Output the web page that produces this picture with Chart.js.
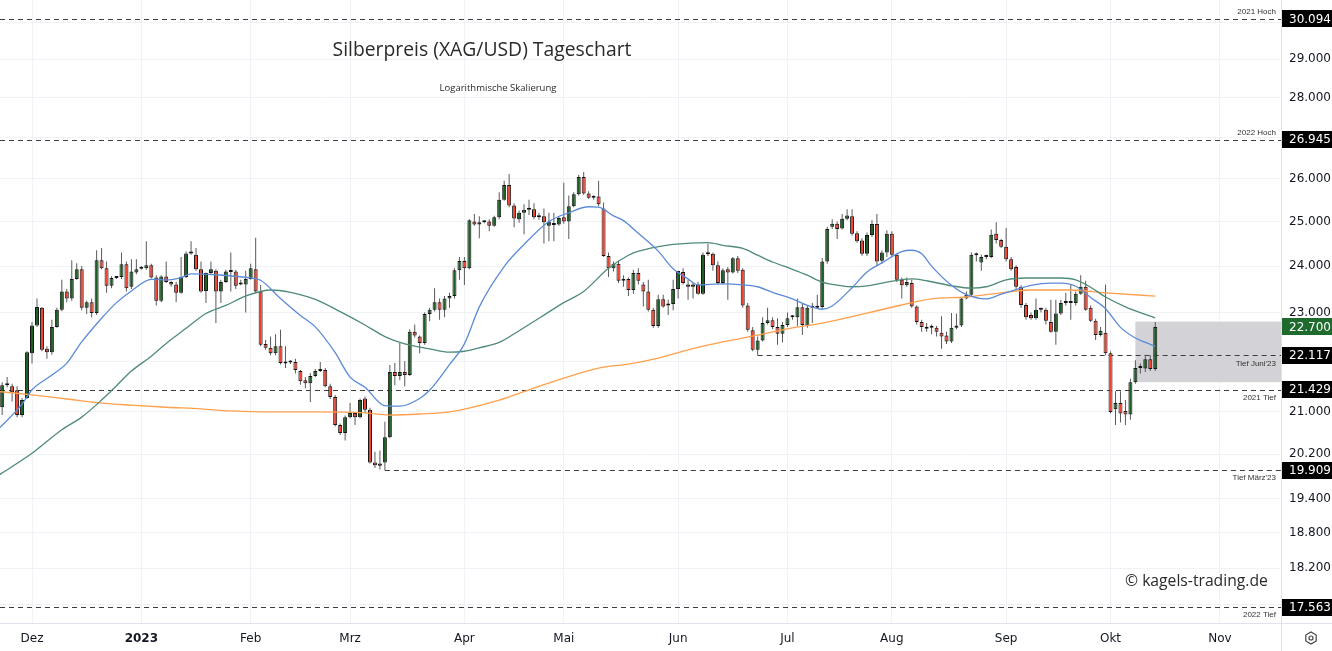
<!DOCTYPE html>
<html>
<head>
<meta charset="utf-8">
<script src="https://cdn.jsdelivr.net/npm/chart.js@4.4.0/dist/chart.umd.min.js"></script>
<style>
  html, body { margin: 0; padding: 0; background: #fff; }
  #wrap { width: 1332px; height: 651px; }
</style>
</head>
<body>
<div id="wrap"><canvas id="chart" width="1332" height="651"></canvas></div>
<script>
// Trading-day index: bar 0 = 1 Dez 2022, first candle is 6 bars earlier
const firstBar = -6;

// OHLC, one value per trading day
const opens = [
  21.09, 21.52, 21.50, 21.42, 20.94, 21.27,
  22.16, 22.73, 23.10, 22.25, 22.18, 22.70, 23.06, 23.45, 23.30, 23.72,
  23.93, 23.10, 23.22, 22.99, 24.13, 23.95, 23.57, 23.74, 23.76, 24.04,
  23.55, 23.86, 23.94, 23.95, 24.02, 23.75, 23.25, 23.77, 23.65, 23.60,
  23.42, 23.76, 24.28, 24.25, 23.93, 23.46, 23.85, 23.90, 23.45, 23.65,
  23.87, 23.88, 23.60, 23.60, 23.72, 23.93, 23.45, 22.35, 22.27, 22.16,
  22.30, 21.96, 21.97, 21.98, 21.80, 21.62, 21.56, 21.70, 21.80, 21.82,
  21.50, 21.29, 20.75, 20.60, 20.90, 20.98, 20.90, 21.26, 21.04, 20.05,
  20.03, 20.05, 20.52, 21.78, 21.70, 21.78, 21.72, 22.60, 22.50, 22.37,
  22.97, 23.06, 23.22, 23.06, 23.30, 23.35, 23.91, 24.11, 23.95, 25.00,
  24.93, 24.98, 25.00, 24.90, 25.10, 25.50, 25.85, 25.37, 25.05, 25.20,
  25.27, 25.28, 25.13, 25.12, 24.90, 24.93, 24.93, 25.10, 25.00, 25.35,
  25.63, 26.04, 25.65, 25.55, 25.58, 25.30, 24.22, 23.95, 24.05, 23.68,
  23.72, 23.48, 23.85, 23.60, 23.45, 23.06, 22.72, 23.28, 23.15, 23.18,
  23.50, 23.87, 23.60, 23.55, 23.60, 23.40, 24.26, 24.27, 24.02, 23.63,
  23.93, 23.86, 24.17, 23.92, 23.15, 22.63, 22.23, 22.42, 22.78, 22.84,
  22.70, 22.56, 22.74, 22.90, 22.90, 23.11, 22.72, 23.10, 23.10, 23.12,
  24.10, 24.88, 24.95, 24.84, 25.06, 25.12, 24.73, 24.57, 24.27, 24.69,
  24.94, 24.12, 24.30, 24.72, 24.25, 23.70, 23.58, 23.63, 23.13, 22.80,
  22.66, 22.68, 22.68, 22.58, 22.52, 22.40, 22.68, 22.73, 23.30, 23.38,
  24.24, 24.08, 24.20, 24.20, 24.72, 24.58, 24.43, 24.15, 23.98, 23.55,
  23.16, 22.95, 22.88, 23.06, 23.06, 22.80, 22.60, 22.98, 23.20, 23.22,
  23.20, 23.40, 23.55, 23.10, 22.83, 22.53, 22.58, 22.16, 21.05, 21.17,
  21.02, 20.95, 21.58, 21.86, 21.85, 22.04, 21.84
];
const highs = [
  21.58, 21.68, 21.55, 21.50, 21.27, 22.20,
  22.80, 23.30, 23.12, 22.30, 22.85, 23.10, 23.70, 23.50, 24.13, 24.06,
  24.00, 23.25, 23.30, 24.35, 24.40, 24.10, 23.78, 23.78, 24.30, 24.10,
  24.15, 24.15, 24.00, 24.55, 24.05, 23.80, 23.80, 24.10, 23.67, 23.65,
  24.20, 24.32, 24.55, 24.40, 24.10, 23.86, 24.10, 23.93, 23.70, 23.92,
  24.30, 23.92, 23.70, 23.90, 24.05, 24.63, 23.59, 22.43, 22.50, 22.55,
  22.64, 22.30, 22.02, 22.05, 21.82, 21.68, 21.76, 21.84, 21.98, 21.86,
  21.55, 21.33, 20.78, 20.93, 21.17, 21.00, 21.26, 21.30, 21.08, 20.25,
  20.27, 20.81, 21.92, 21.96, 22.37, 22.00, 22.65, 22.75, 22.52, 23.00,
  23.10, 23.52, 23.30, 23.35, 23.42, 23.95, 24.20, 24.20, 25.05, 25.17,
  25.12, 25.02, 25.05, 25.13, 25.68, 25.95, 26.11, 25.42, 25.25, 25.40,
  25.50, 25.42, 25.20, 25.30, 25.20, 25.20, 25.12, 25.90, 25.60, 25.68,
  26.09, 26.16, 25.70, 25.60, 25.95, 25.44, 24.30, 24.10, 24.12, 23.80,
  23.75, 23.92, 23.95, 23.65, 23.70, 23.10, 23.38, 23.38, 23.27, 23.70,
  23.90, 23.95, 23.70, 23.63, 23.65, 24.30, 24.50, 24.30, 24.10, 23.95,
  23.98, 24.20, 24.22, 23.95, 23.20, 22.70, 22.50, 22.90, 23.10, 22.90,
  22.88, 22.80, 23.00, 22.95, 23.30, 23.20, 23.15, 23.20, 23.38, 24.18,
  24.88, 25.05, 25.00, 25.17, 25.28, 25.28, 24.78, 24.62, 24.75, 25.03,
  25.17, 24.35, 24.80, 24.78, 24.28, 23.75, 23.75, 23.70, 23.15, 22.85,
  22.78, 22.75, 22.72, 22.92, 22.60, 22.99, 22.98, 23.32, 23.45, 24.30,
  24.30, 24.25, 24.25, 24.82, 24.98, 24.60, 24.85, 24.20, 24.02, 23.58,
  23.20, 23.00, 23.30, 23.10, 23.10, 23.27, 23.27, 23.27, 23.42, 23.60,
  23.45, 23.80, 23.68, 23.15, 22.87, 22.70, 23.60, 22.20, 21.40, 21.40,
  21.23, 21.65, 22.02, 21.95, 22.13, 22.12, 22.80
];
const lows = [
  20.94, 21.48, 21.20, 20.90, 20.90, 21.25,
  21.95, 22.70, 22.20, 22.05, 22.13, 22.68, 23.03, 23.22, 23.25, 23.70,
  23.05, 22.97, 22.90, 22.95, 23.93, 23.42, 23.52, 23.72, 23.72, 23.45,
  23.50, 23.82, 23.92, 23.92, 23.73, 23.15, 23.22, 23.63, 23.55, 23.22,
  23.40, 23.74, 24.25, 23.90, 23.42, 23.20, 23.83, 22.78, 23.20, 23.63,
  23.45, 23.50, 23.58, 23.00, 23.70, 23.43, 22.30, 22.23, 22.12, 22.12,
  21.93, 21.86, 21.94, 21.75, 21.53, 21.46, 21.19, 21.68, 21.78, 21.48,
  21.25, 20.72, 20.56, 20.46, 20.88, 20.75, 20.88, 20.98, 20.03, 19.95,
  19.92, 19.909, 20.50, 21.52, 21.62, 21.50, 21.70, 22.48, 22.16, 22.33,
  22.82, 23.02, 22.85, 22.90, 23.10, 23.30, 23.70, 23.59, 23.93, 24.90,
  24.62, 24.96, 24.78, 24.88, 25.05, 25.48, 25.33, 24.87, 24.97, 24.71,
  25.15, 25.05, 25.04, 24.50, 24.55, 24.55, 24.90, 24.95, 24.60, 25.33,
  25.60, 25.62, 25.52, 25.50, 25.35, 24.20, 23.76, 23.88, 23.63, 23.55,
  23.35, 23.40, 23.60, 23.13, 23.02, 22.68, 22.68, 23.10, 22.95, 23.05,
  23.30, 23.60, 23.27, 23.30, 23.38, 23.38, 24.22, 23.90, 23.60, 23.60,
  23.27, 23.84, 23.85, 23.10, 22.60, 22.20, 22.117, 22.40, 22.75, 22.65,
  22.33, 22.38, 22.70, 22.85, 22.72, 22.53, 22.68, 22.78, 23.08, 23.08,
  24.05, 24.83, 24.60, 24.82, 25.03, 24.68, 24.52, 24.23, 24.22, 24.65,
  24.02, 24.05, 24.20, 24.20, 23.65, 23.30, 23.55, 23.10, 22.75, 22.60,
  22.60, 22.55, 22.50, 22.25, 22.35, 22.37, 22.65, 22.70, 23.28, 23.35,
  24.10, 23.90, 24.15, 24.18, 24.50, 24.40, 24.10, 23.90, 23.50, 23.10,
  22.85, 22.85, 22.85, 23.00, 22.75, 22.58, 22.33, 22.95, 23.15, 22.85,
  23.15, 23.38, 23.04, 22.80, 22.43, 22.50, 22.12, 20.97, 20.75, 20.80,
  20.75, 20.85, 21.55, 21.75, 21.78, 21.80, 21.80
];
const closes = [
  21.52, 21.56, 21.38, 20.94, 21.23, 22.18,
  22.73, 23.12, 22.23, 22.18, 22.70, 23.06, 23.45, 23.30, 23.72, 23.93,
  23.10, 23.22, 22.99, 24.13, 23.95, 23.57, 23.74, 23.76, 24.04, 23.52,
  23.88, 23.93, 23.96, 24.02, 23.75, 23.25, 23.77, 23.65, 23.60, 23.42,
  23.76, 24.28, 24.30, 23.93, 23.45, 23.85, 23.93, 23.45, 23.65, 23.88,
  23.89, 23.57, 23.63, 23.72, 23.95, 23.45, 22.33, 22.27, 22.16, 22.30,
  21.96, 21.95, 21.98, 21.82, 21.60, 21.56, 21.70, 21.80, 21.82, 21.50,
  21.29, 20.75, 20.60, 20.90, 20.98, 20.90, 21.23, 21.04, 20.05, 20.00,
  19.99, 20.52, 21.78, 21.70, 21.78, 21.72, 22.60, 22.52, 22.37, 22.97,
  23.06, 23.22, 23.06, 23.30, 23.35, 23.91, 24.11, 23.95, 25.03, 24.93,
  24.98, 24.99, 24.90, 25.10, 25.50, 25.85, 25.37, 25.07, 25.20, 25.27,
  25.30, 25.10, 25.10, 24.98, 25.00, 24.92, 25.08, 25.00, 25.35, 25.63,
  26.04, 25.65, 25.55, 25.56, 25.40, 24.22, 23.95, 24.05, 23.68, 23.72,
  23.48, 23.85, 23.68, 23.45, 23.06, 22.72, 23.28, 23.13, 23.16, 23.50,
  23.89, 23.63, 23.55, 23.60, 23.40, 24.25, 24.27, 24.02, 23.63, 23.91,
  23.86, 24.17, 23.90, 23.15, 22.64, 22.23, 22.42, 22.78, 22.84, 22.70,
  22.56, 22.74, 22.88, 22.91, 23.11, 22.74, 23.10, 23.12, 23.12, 24.10,
  24.83, 24.95, 24.83, 25.06, 25.14, 24.72, 24.55, 24.27, 24.69, 24.94,
  24.10, 24.30, 24.72, 24.25, 23.70, 23.58, 23.65, 23.13, 22.80, 22.70,
  22.70, 22.69, 22.60, 22.50, 22.40, 22.68, 22.73, 23.30, 23.38, 24.25,
  24.25, 24.20, 24.21, 24.70, 24.58, 24.43, 24.15, 23.93, 23.55, 23.16,
  22.90, 22.88, 23.06, 23.07, 22.83, 22.60, 22.98, 23.20, 23.22, 23.20,
  23.40, 23.55, 23.06, 22.83, 22.53, 22.62, 22.16, 21.00, 21.17, 20.97,
  20.95, 21.58, 21.86, 21.87, 22.04, 21.84, 22.70
];

// moving averages (bar index -> price)
const sma20Bars = [-7, -2, 0, 4, 7, 10, 14, 17, 20, 24, 27, 30, 32, 37, 44, 46, 50, 54, 57, 61, 64, 67, 71, 74, 78, 80, 84, 87, 90, 95, 99, 104, 108, 112, 114, 117, 119, 122, 126, 129, 132, 134, 139, 143, 146, 149, 153, 156, 159, 161, 165, 168, 171, 175, 177, 179, 181, 185, 188, 192, 195, 198, 201, 205, 207, 210, 213, 216, 219, 222, 224, 226];
const sma20Values = [20.65, 21.15, 21.43, 21.72, 21.96, 22.39, 22.88, 23.21, 23.46, 23.71, 23.70, 23.75, 23.83, 23.81, 23.74, 23.69, 23.30, 22.94, 22.70, 22.17, 21.68, 21.48, 21.12, 21.11, 21.26, 21.42, 21.93, 22.35, 23.12, 23.99, 24.48, 25.00, 25.20, 25.34, 25.33, 25.13, 25.02, 24.73, 24.33, 23.94, 23.72, 23.59, 23.61, 23.59, 23.55, 23.43, 23.29, 23.15, 23.07, 23.14, 23.53, 23.87, 24.07, 24.32, 24.35, 24.27, 24.00, 23.58, 23.38, 23.29, 23.39, 23.49, 23.58, 23.63, 23.63, 23.56, 23.32, 23.08, 22.69, 22.47, 22.38, 22.30];

const sma50Bars = [-7, 0, 6, 10, 14, 17, 20, 24, 27, 31, 35, 39, 43, 48, 52, 57, 62, 67, 71, 75, 80, 84, 87, 90, 94, 98, 102, 107, 111, 116, 120, 122, 126, 129, 136, 139, 143, 146, 149, 153, 156, 159, 163, 165, 168, 172, 177, 180, 185, 189, 192, 196, 200, 207, 210, 213, 216, 220, 224, 226];
const sma50Values = [19.80, 20.22, 20.66, 20.90, 21.23, 21.51, 21.80, 22.10, 22.36, 22.67, 22.98, 23.15, 23.35, 23.48, 23.43, 23.28, 23.02, 22.74, 22.50, 22.35, 22.25, 22.18, 22.20, 22.27, 22.38, 22.62, 22.88, 23.21, 23.45, 23.95, 24.24, 24.33, 24.43, 24.48, 24.52, 24.46, 24.39, 24.24, 24.09, 23.93, 23.80, 23.65, 23.57, 23.55, 23.57, 23.65, 23.72, 23.68, 23.57, 23.52, 23.55, 23.70, 23.74, 23.74, 23.70, 23.54, 23.33, 23.12, 22.96, 22.89];

const sma200Bars = [-7, 0, 7, 14, 20, 27, 34, 40, 48, 57, 67, 72, 78, 84, 94, 100, 107, 114, 120, 126, 132, 139, 146, 153, 159, 168, 175, 181, 188, 195, 201, 209, 216, 226];
const sma200Values = [21.40, 21.33, 21.25, 21.17, 21.13, 21.09, 21.06, 21.02, 21.00, 21.00, 20.98, 20.94, 20.96, 21.00, 21.23, 21.43, 21.66, 21.86, 21.94, 22.06, 22.23, 22.39, 22.53, 22.68, 22.78, 22.99, 23.16, 23.29, 23.33, 23.42, 23.48, 23.48, 23.42, 23.35];

// axes
const monthBars = [0, 22, 44, 64, 87, 107, 130, 152, 173, 196, 217, 239];
const monthLabels = ['Dez', '2023', 'Feb', 'Mrz', 'Apr', 'Mai', 'Jun', 'Jul', 'Aug', 'Sep', 'Okt', 'Nov'];
const priceTicks = [17.6, 18.2, 18.8, 19.4, 20.2, 21, 22, 23, 24, 25, 26, 27, 28, 29, 30];

// marked levels
const levelValues = [30.094, 26.945, 22.117, 21.429, 19.909, 17.563];
const levelNames = ['2021 Hoch', '2022 Hoch', "Tief Juni'23", '2021 Tief', "Tief März'23", '2022 Tief'];
const levelFromBar = [null, null, 146, null, 71, null];
const levelAbove = [true, true, false, false, false, false];

// grey zone at the right
const zoneFromBar = 222;
const zoneTop = 22.81;
const zoneBottom = 21.58;

const upColor = '#1c5e24';
const downColor = '#ef4331';
const gridColor = '#f0f2f7';
const textColor = '#131722';
const font = '"DejaVu Sans"';

const bodies = opens.map((o, i) => ({ x: i + firstBar, y: [o, closes[i]] }));
const wicks = lows.map((l, i) => ({ x: i + firstBar, y: [l, highs[i]] }));
const toPoints = (bars, values) => bars.map((b, i) => ({ x: b, y: values[i] }));

function fitFont(ctx, text, family, weight, width) {
  ctx.font = weight + ' 100px ' + family;
  return 100 * width / ctx.measureText(text).width;
}

const overlay = {
  id: 'overlay',
  beforeDatasetsDraw(chart) {
    const { ctx, chartArea: a, scales: { x, y } } = chart;
    ctx.save();
    // shaded zone
    const zx = x.getPixelForValue(zoneFromBar);
    const zt = y.getPixelForValue(zoneTop);
    const zb = y.getPixelForValue(zoneBottom);
    ctx.fillStyle = '#d2d2d7';
    ctx.fillRect(zx, zt, a.right - zx, zb - zt);

    // dashed levels
    ctx.strokeStyle = '#3c3c3c';
    ctx.lineWidth = 1;
    ctx.setLineDash([5, 4]);
    levelValues.forEach((v, i) => {
      const py = Math.round(y.getPixelForValue(v)) + 0.5;
      const px = levelFromBar[i] === null ? a.left : x.getPixelForValue(levelFromBar[i]);
      ctx.beginPath();
      ctx.moveTo(px, py);
      ctx.lineTo(a.right, py);
      ctx.stroke();
    });
    ctx.restore();
  },
  afterDraw(chart) {
    const { ctx, chartArea: a, scales: { y } } = chart;
    ctx.save();

    // axis borders
    ctx.strokeStyle = '#e0e3eb';
    ctx.lineWidth = 1;
    ctx.beginPath();
    ctx.moveTo(a.right + 0.5, 0);
    ctx.lineTo(a.right + 0.5, chart.height);
    ctx.moveTo(0, a.bottom + 0.5);
    ctx.lineTo(chart.width, a.bottom + 0.5);
    ctx.stroke();

    // level names
    ctx.font = '8px "Liberation Sans"';
    ctx.fillStyle = '#333';
    ctx.textAlign = 'right';
    levelValues.forEach((v, i) => {
      const py = y.getPixelForValue(v);
      if (levelAbove[i]) {
        ctx.textBaseline = 'bottom';
        ctx.fillText(levelNames[i], a.right - 5, py - 3);
      } else {
        ctx.textBaseline = 'top';
        ctx.fillText(levelNames[i], a.right - 5, py + 4);
      }
    });

    // price boxes on the axis
    const box = (v, bg) => {
      const py = y.getPixelForValue(v);
      ctx.fillStyle = bg;
      ctx.fillRect(a.right + 1, Math.round(py - 8.5), chart.width - a.right - 1, 17);
      ctx.fillStyle = '#fff';
      ctx.font = '12px ' + font;
      ctx.textAlign = 'left';
      ctx.textBaseline = 'middle';
      ctx.fillText(v.toFixed(3), a.right + 8, py + 0.5);
    };
    levelValues.forEach(v => box(v, '#000'));
    box(closes[closes.length - 1], '#1e6b2d');

    // titles
    ctx.fillStyle = '#2a2a2a';
    ctx.textAlign = 'center';
    ctx.textBaseline = 'middle';
    const title = 'Silberpreis (XAG/USD) Tageschart';
    ctx.font = fitFont(ctx, title, '"Open Sans"', 'normal', 299) + 'px "Open Sans"';
    ctx.fillText(title, 482, 50);
    const sub = 'Logarithmische Skalierung';
    ctx.font = fitFont(ctx, sub, '"Open Sans"', 'normal', 117) + 'px "Open Sans"';
    ctx.fillText(sub, 498, 88);

    const mark = '© kagels-trading.de';
    ctx.textAlign = 'left';
    ctx.font = fitFont(ctx, mark, '"Open Sans"', 'normal', 143) + 'px "Open Sans"';
    ctx.fillText(mark, 1125, 582);

    // settings icon
    const cx = 1311, cy = 638, r = 6;
    ctx.strokeStyle = '#444';
    ctx.lineWidth = 1.2;
    ctx.beginPath();
    for (let k = 0; k < 6; k++) {
      const ang = Math.PI / 6 + k * Math.PI / 3;
      const px = cx + r * Math.cos(ang), py = cy + r * Math.sin(ang);
      if (k === 0) ctx.moveTo(px, py); else ctx.lineTo(px, py);
    }
    ctx.closePath();
    ctx.stroke();
    ctx.beginPath();
    ctx.arc(cx, cy, 2, 0, Math.PI * 2);
    ctx.stroke();
    ctx.restore();
  }
};

new Chart(document.getElementById('chart'), {
  type: 'bar',
  data: {
    datasets: [
      {
        type: 'line', label: 'SMA 20', data: toPoints(sma20Bars, sma20Values),
        borderColor: '#5b8bd8', borderWidth: 1.3, pointRadius: 0,
        cubicInterpolationMode: 'monotone', order: 0
      },
      {
        type: 'line', label: 'SMA 50', data: toPoints(sma50Bars, sma50Values),
        borderColor: '#4f8b78', borderWidth: 1.3, pointRadius: 0,
        cubicInterpolationMode: 'monotone', order: 1
      },
      {
        type: 'line', label: 'SMA 200', data: toPoints(sma200Bars, sma200Values),
        borderColor: '#ffa04c', borderWidth: 1.3, pointRadius: 0,
        cubicInterpolationMode: 'monotone', order: 2
      },
      {
        label: 'Kerzen', data: bodies,
        backgroundColor: c => closes[c.dataIndex] >= opens[c.dataIndex] ? upColor : downColor,
        borderColor: '#151515', borderWidth: 1, borderSkipped: false,
        barThickness: 4, minBarLength: 2, grouped: false, inflateAmount: 0, order: 3
      },
      {
        label: 'Dochte', data: wicks,
        backgroundColor: '#5a5a5a', barThickness: 1, grouped: false, inflateAmount: 0, order: 4
      }
    ]
  },
  options: {
    responsive: false,
    animation: false,
    layout: { padding: 0 },
    plugins: { legend: { display: false }, tooltip: { enabled: false } },
    scales: {
      x: {
        type: 'linear',
        min: -6.44,
        max: 251.3,
        offset: false,
        grid: { color: gridColor, drawTicks: false, offset: false },
        border: { display: false },
        afterBuildTicks: axis => { axis.ticks = monthBars.map(v => ({ value: v })); },
        afterFit: axis => { axis.height = 28; axis.paddingLeft = 0; axis.paddingRight = 0; },
        ticks: {
          autoSkip: false,
          maxRotation: 0,
          padding: 9,
          color: textColor,
          font: c => ({ family: font, size: 12, weight: monthLabels[c.index] === '2023' ? 'bold' : 'normal' }),
          callback: v => monthLabels[monthBars.indexOf(v)]
        }
      },
      y: {
        type: 'logarithmic',
        position: 'right',
        min: 17.31,
        max: 30.62,
        grid: { color: gridColor, drawTicks: false },
        border: { display: false },
        afterBuildTicks: axis => { axis.ticks = priceTicks.map(v => ({ value: v })); },
        afterFit: axis => { axis.width = 51; axis.paddingTop = 0; axis.paddingBottom = 0; },
        ticks: {
          padding: 8,
          color: textColor,
          font: { family: font, size: 12 },
          callback: v => Number(v).toFixed(3)
        }
      }
    }
  },
  plugins: [overlay]
});
</script>
</body>
</html>
